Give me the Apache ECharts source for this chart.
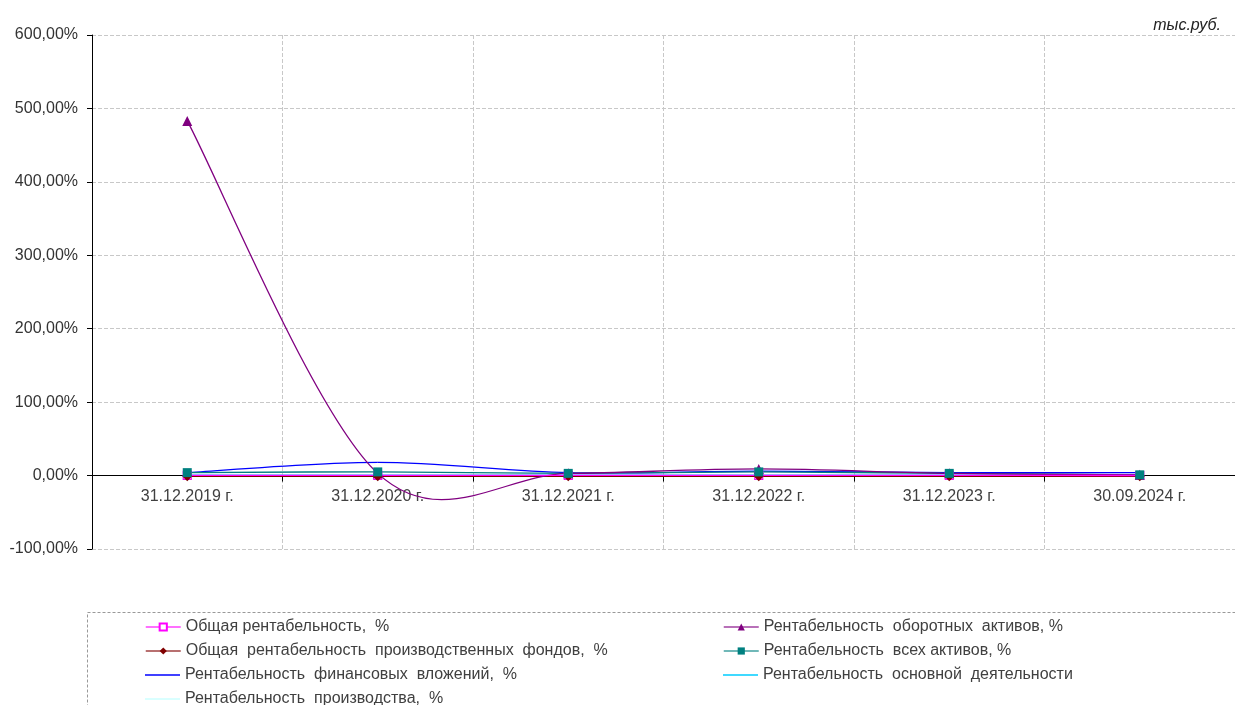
<!DOCTYPE html>
<html>
<head>
<meta charset="utf-8">
<script src="https://cdn.jsdelivr.net/npm/echarts@6/dist/echarts.min.js"></script>
<style>
  html, body { margin: 0; padding: 0; background: #fff; }
  #chart { width: 1235px; height: 705px; }
</style>
</head>
<body>
<div id="chart"></div>
<script>
// Reporting dates
const categories = ['31.12.2019 г.', '31.12.2020 г.', '31.12.2021 г.', '31.12.2022 г.', '31.12.2023 г.', '30.09.2024 г.'];

// Profitability ratios, %
const obshchaya = [0.2, 0.3, 0.2, 0.4, 0.2, 0.1];
const oborotnyh = [483, 3, 3, 9, 3, 1];
const proizvFondov = [-1, -1, -1, -1, -1, -1];
const vsehAktivov = [4, 5, 3, 5, 3, 1];
const finVlozheniy = [4, 18, 4, 6, 4, 4];
const osnovnoy = [0.5, 0.5, 0.5, 0.5, 0.5, 0.5];
const proizvodstva = [0, 0, 0, 0, 0, 0];

// Value axis ticks
const yTicks = { min: -100, max: 600, interval: 100 };

const names = {
  obshchaya: 'Общая рентабельность,  %',
  oborotnyh: 'Рентабельность  оборотных  активов, %',
  proizvFondov: 'Общая  рентабельность  производственных  фондов,  %',
  vsehAktivov: 'Рентабельность  всех активов, %',
  finVlozheniy: 'Рентабельность  финансовых  вложений,  %',
  osnovnoy: 'Рентабельность  основной  деятельности',
  proizvodstva: 'Рентабельность  производства,  %'
};

const FONT = 'Liberation Sans, Arial, sans-serif';
const fmt = v => v.toFixed(2).replace('.', ',') + '%';

// Smoothed line drawn segment by segment as cubic Bezier curves
// (Catmull-Rom style tangents, tension 1/6), positioned through the axes.
function curve(values, color, width) {
  const n = values.length;
  const idx = k => Math.max(0, Math.min(n - 1, k));
  return {
    type: 'custom',
    silent: true,
    z: 2,
    data: values.map((v, i) => [i, v]),
    encode: { x: 0, y: 1 },
    renderItem: function (params, api) {
      const i = params.dataIndex;
      if (i >= n - 1) return null;
      const p = k => api.coord([idx(k), values[idx(k)]]);
      const p0 = p(i - 1), p1 = p(i), p2 = p(i + 1), p3 = p(i + 2);
      return {
        type: 'bezierCurve',
        shape: {
          x1: p1[0], y1: p1[1],
          x2: p2[0], y2: p2[1],
          cpx1: p1[0] + (p2[0] - p0[0]) / 6, cpy1: p1[1] + (p2[1] - p0[1]) / 6,
          cpx2: p2[0] - (p3[0] - p1[0]) / 6, cpy2: p2[1] - (p3[1] - p1[1]) / 6
        },
        style: { stroke: color, fill: null, lineWidth: width }
      };
    }
  };
}

// Marker-only series carrying the legend names
function markers(name, data, color, symbol, size, itemStyle) {
  return {
    name: name,
    type: 'line',
    data: data,
    symbol: symbol,
    symbolSize: size,
    showSymbol: symbol !== 'none',
    lineStyle: { color: color, width: 1.3, opacity: 0 },
    itemStyle: itemStyle || { color: color },
    z: 3
  };
}

const legendText = { fontFamily: FONT, fontSize: 16, color: '#404040' };

function legendItem(name, left, top, color, lineOnly) {
  const base = {
    left: left, top: top,
    itemWidth: 35, itemHeight: lineOnly ? 1.5 : 9,
    data: [name],
    textStyle: legendText,
    selectedMode: false,
    padding: 0
  };
  if (lineOnly) {
    base.icon = 'rect';
    base.itemStyle = { color: color, borderWidth: 0 };
  } else {
    base.lineStyle = { color: color, width: 1.5, opacity: 0.75 };
  }
  return base;
}

const col1 = 145, col2 = 723;
const rows = [619, 643, 667, 691];

const chart = echarts.init(document.getElementById('chart'), null, { renderer: 'canvas' });

chart.setOption({
  animation: false,
  title: {
    text: 'тыс.руб.',
    right: 9,
    top: 13,
    textStyle: { fontFamily: FONT, fontSize: 16, fontStyle: 'italic', fontWeight: 'normal', color: '#222' }
  },
  grid: { left: 92, top: 35, width: 1145, height: 514 },
  legend: [
    legendItem(names.obshchaya, col1, rows[0], '#ff00ff', false),
    legendItem(names.oborotnyh, col2, rows[0], '#800080', false),
    legendItem(names.proizvFondov, col1, rows[1], '#800000', false),
    legendItem(names.vsehAktivov, col2, rows[1], '#008080', false),
    legendItem(names.finVlozheniy, col1, rows[2], '#0000ff', true),
    legendItem(names.osnovnoy, col2, rows[2], '#00ccff', true),
    legendItem(names.proizvodstva, col1, rows[3], '#ccffff', true)
  ],
  graphic: [{
    type: 'rect',
    shape: { x: 87.5, y: 612.5, width: 1160, height: 120 },
    style: { fill: 'none', stroke: '#999', lineWidth: 1, lineDash: [3, 2] },
    silent: true
  }],
  xAxis: {
    type: 'category',
    data: categories,
    boundaryGap: true,
    axisLine: { onZero: true, lineStyle: { color: '#000', width: 1 } },
    axisTick: { show: true, length: 6, inside: false, lineStyle: { color: '#000' } },
    axisLabel: { fontFamily: FONT, fontSize: 16, color: '#404040', margin: -60 },
    splitLine: { show: true, lineStyle: { color: '#c8c8c8', type: [4, 2] } }
  },
  yAxis: {
    type: 'value',
    min: yTicks.min, max: yTicks.max, interval: yTicks.interval,
    axisLine: { show: true, lineStyle: { color: '#000', width: 1 } },
    axisTick: { show: true, length: 5, lineStyle: { color: '#000' } },
    axisLabel: { formatter: fmt, fontFamily: FONT, fontSize: 16, color: '#333', margin: 14 },
    splitLine: { show: true, lineStyle: { color: '#c8c8c8', type: [4, 2] } }
  },
  series: [
    curve(proizvodstva, '#ccffff', 1.3),
    curve(osnovnoy, '#00ccff', 1.3),
    curve(finVlozheniy, '#0000ff', 1.3),
    curve(vsehAktivov, '#008080', 1.3),
    curve(proizvFondov, '#800000', 1.3),
    curve(oborotnyh, '#800080', 1.3),
    curve(obshchaya, '#ff00ff', 1.3),
    markers(names.obshchaya, obshchaya, '#ff00ff', 'rect', 8, { color: '#fff', borderColor: '#ff00ff', borderWidth: 1.2 }),
    markers(names.oborotnyh, oborotnyh, '#800080', 'triangle', 10),
    markers(names.proizvFondov, proizvFondov, '#800000', 'diamond', 10),
    markers(names.vsehAktivov, vsehAktivov, '#008080', 'rect', 9),
    markers(names.finVlozheniy, finVlozheniy, '#0000ff', 'none', 0),
    markers(names.osnovnoy, osnovnoy, '#00ccff', 'none', 0),
    markers(names.proizvodstva, proizvodstva, '#ccffff', 'none', 0)
  ]
});
</script>
</body>
</html>
